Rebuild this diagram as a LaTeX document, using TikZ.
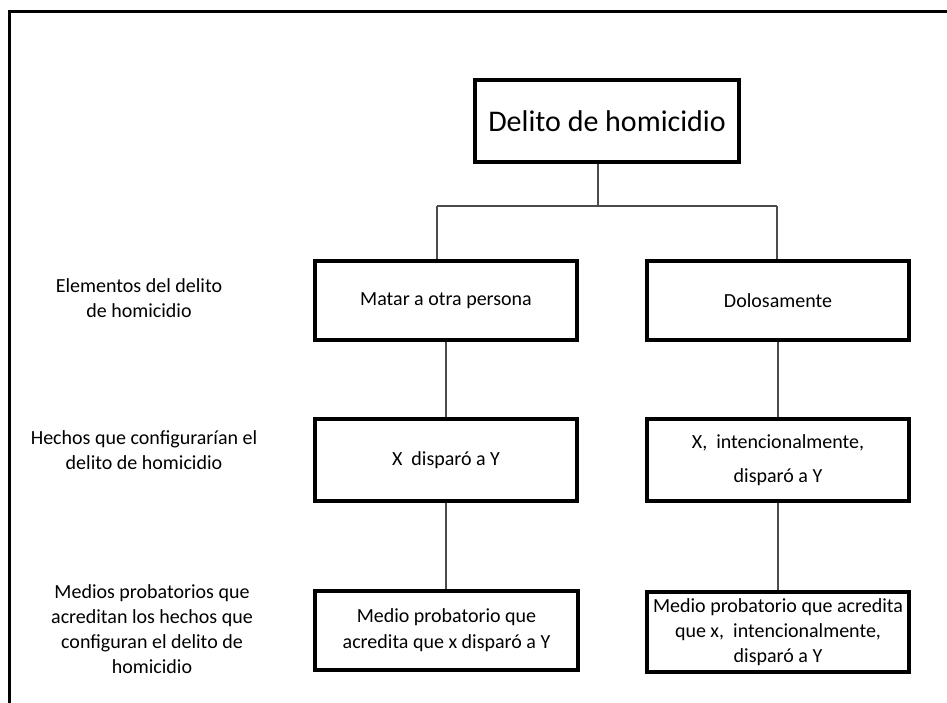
\documentclass[tikz,border=0pt]{standalone}
\usepackage{fontspec}
\setmainfont{Carlito}
\begin{document}
\begin{tikzpicture}[x=1pt,y=-1pt,
  box/.style={draw, line width=3.5pt, align=center, inner sep=0pt, font=\fontsize{20}{25}\selectfont},
  conn/.style={draw=black!70, line width=1.3pt},
  lab/.style={align=center, inner sep=0pt, font=\fontsize{20}{25.5}\selectfont},
  frame/.style={draw, line width=3pt}]
\useasboundingbox (0,0) rectangle (947,702);
\draw[frame] (9,710) -- (9,11) -- (960,11);

\node[box, minimum width=264pt, minimum height=82pt, font=\fontsize{30}{36}\selectfont] (top) at (607,121) {Delito de homicidio};

\node[box, minimum width=262pt, minimum height=79pt] (matar) at (446,300.5) {Matar a otra persona};
\node[box, minimum width=262pt, minimum height=79pt] (dolo) at (778,300.5) {Dolosamente};

\node[box, minimum width=262pt, minimum height=82pt] (xdisp) at (446,460) {X\ \ disparó a Y};
\node[box, minimum width=262pt, minimum height=82pt, font=\fontsize{20}{34}\selectfont] (xint) at (778,460) {X,\ \ intencionalmente,\\disparó a Y};

\node[box, minimum width=263pt, minimum height=79pt, font=\fontsize{20}{26}\selectfont] (medl) at (446.5,630.5) {Medio probatorio que\\acredita que x disparó a Y};
\node[box, minimum width=262pt, minimum height=80pt] (medr) at (778,632) {Medio probatorio que acredita\\que x,\ \ intencionalmente,\\disparó a Y};

\node[lab] (l1) at (139,298) {Elementos del delito\\de homicidio};
\node[lab] (l2) at (144,450) {Hechos que configurarían el\\delito de homicidio};
\node[lab, font=\fontsize{20}{25}\selectfont] (l3) at (152,629.5) {Medios probatorios que\\acreditan los hechos que\\configuran el delito de\\homicidio};

\coordinate (j) at (598,206);
\coordinate (jl) at (437,206);
\coordinate (jr) at (777,206);

\draw[conn] (top.south -| j) -- (j);
\draw[conn] (jl) -- (jr);
\draw[conn] (jl) -- (jl |- matar.north);
\draw[conn] (jr) -- (jr |- dolo.north);
\draw[conn] (matar.south) -- (xdisp.north);
\draw[conn] (xdisp.south) -- (medl.north -| xdisp.south);
\draw[conn] (dolo.south) -- (xint.north);
\draw[conn] (xint.south) -- (medr.north -| xint.south);
\end{tikzpicture}
\end{document}
